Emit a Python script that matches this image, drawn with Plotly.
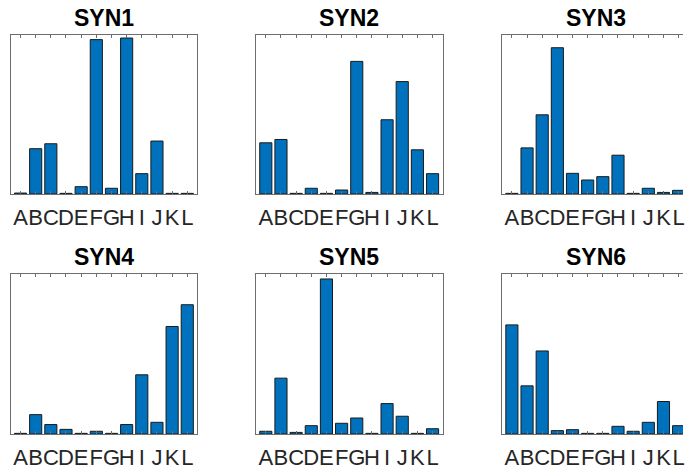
import plotly.graph_objects as go

# Categories and per-panel values (normalised to the axis height)
categories = ["A", "B", "C", "D", "E", "F", "G", "H", "I", "J", "K", "L"]
titles = ["SYN1", "SYN2", "SYN3", "SYN4", "SYN5", "SYN6"]

syn1 = [0.006, 0.285, 0.316, 0.004, 0.046, 0.971, 0.036, 0.981, 0.128, 0.333, 0.004, 0.004]
syn2 = [0.322, 0.343, 0.004, 0.036, 0.004, 0.025, 0.834, 0.010, 0.467, 0.707, 0.278, 0.128]
syn3 = [0.004, 0.290, 0.498, 0.920, 0.130, 0.088, 0.109, 0.244, 0.004, 0.036, 0.010, 0.023]
syn4 = [0.004, 0.121, 0.059, 0.029, 0.004, 0.017, 0.004, 0.059, 0.370, 0.073, 0.672, 0.808]
syn5 = [0.017, 0.349, 0.010, 0.052, 0.969, 0.067, 0.100, 0.004, 0.190, 0.111, 0.004, 0.033]
syn6 = [0.682, 0.301, 0.519, 0.021, 0.027, 0.004, 0.004, 0.048, 0.017, 0.073, 0.203, 0.052]
series = [syn1, syn2, syn3, syn4, syn5, syn6]

W, H = 685, 472
BAR_COLOR = "#0072BD"
AXIS_COLOR = "#6e6e6e"
TEXT_COLOR = "#262626"

# Panel boxes in pixels: (left, right) per column, (top, bottom) per row
col_px = [(10.7, 197.7), (256.7, 444.0), (503.5, 692.0)]
row_px = [(35.0, 194.0), (274.0, 434.0)]
x_lo, x_hi = -0.65, 11.65
unit_px = (col_px[0][1] - col_px[0][0]) / (x_hi - x_lo)

fig = go.Figure()

for i, (title, vals) in enumerate(zip(titles, series)):
    r, c = divmod(i, 3)
    n = i + 1
    left, right = col_px[c]
    top, bottom = row_px[r]
    # the last column runs past the page edge; show only what fits
    vis_right = min(right, W)
    rng_hi = x_lo + (vis_right - left) / unit_px
    xa = "x" if n == 1 else f"x{n}"
    ya = "y" if n == 1 else f"y{n}"
    fig.add_trace(go.Bar(
        x=categories, y=vals, xaxis=xa, yaxis=ya,
        marker=dict(color=BAR_COLOR, line=dict(color="#1a1a1a", width=1)),
        width=0.8, showlegend=False, hoverinfo="skip",
    ))
    xkey = "xaxis" if n == 1 else f"xaxis{n}"
    ykey = "yaxis" if n == 1 else f"yaxis{n}"
    fig.layout[xkey] = dict(
        domain=[left / W, vis_right / W], anchor=ya,
        type="category", range=[x_lo, rng_hi],
        tickmode="linear", tick0=0, dtick=1, tickangle=0,
        ticks="inside", ticklen=3, tickwidth=1, tickcolor=AXIS_COLOR,
        showline=True, linecolor=AXIS_COLOR, linewidth=1, mirror="ticks",
        showgrid=False, zeroline=False, fixedrange=True,
        ticklabelstandoff=4,
        tickfont=dict(family="Liberation Sans, Arial", size=22, color=TEXT_COLOR),
    )
    fig.layout[ykey] = dict(
        domain=[1 - bottom / H, 1 - top / H], anchor=xa,
        range=[0, 1], showticklabels=False, ticks="",
        showline=True, linecolor=AXIS_COLOR, linewidth=1,
        mirror=(right <= W), showgrid=False, zeroline=False, fixedrange=True,
    )
    fig.add_annotation(
        text=f"<b>{title}</b>", xref="paper", yref="paper",
        x=((left + right) / 2) / W, y=1 - (top - 17) / H,
        xanchor="center", yanchor="middle", showarrow=False,
        font=dict(family="Liberation Sans, Arial", size=23, color="#000000"),
    )

fig.update_layout(
    width=W, height=H,
    margin=dict(l=0, r=0, t=0, b=0),
    paper_bgcolor="white", plot_bgcolor="white",
)

fig.write_html("out.html")
